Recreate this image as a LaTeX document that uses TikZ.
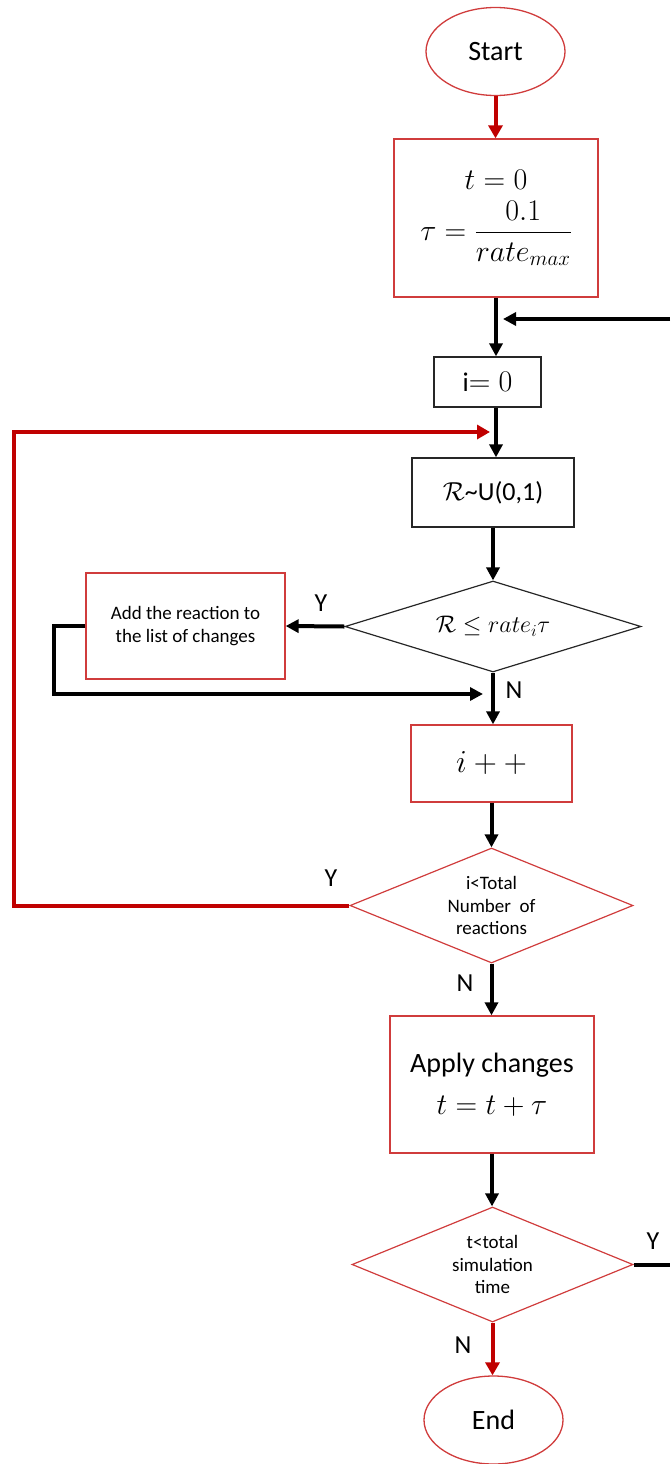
\RequirePackage{fix-cm}
\documentclass[tikz,border=0pt]{standalone}
\usepackage{amsmath}
\usepackage{fontspec}
\setmainfont{Carlito}
\usetikzlibrary{shapes.geometric,arrows.meta}
\definecolor{boxred}{RGB}{208,60,60}
\definecolor{arrred}{RGB}{192,0,0}
\begin{document}
\begin{tikzpicture}[x=1pt,y=-1pt,
  redbox/.style={draw=boxred,line width=1.3pt,rectangle,inner sep=0pt,align=center},
  blackbox/.style={draw=black!85,line width=1.3pt,rectangle,inner sep=0pt,align=center},
  term/.style={draw=boxred,line width=1.3pt,ellipse,inner sep=0pt,minimum width=139pt,minimum height=88pt,font=\fontsize{28}{32}\selectfont},
  dia/.style={draw=#1,line width=1.2pt,diamond,inner sep=0pt,align=center},
  blk/.style={line width=4pt,draw=black,-{Triangle[length=13pt,width=13pt]}},
  blkline/.style={line width=4pt,draw=black},
  redarr/.style={line width=4pt,draw=arrred,-{Triangle[length=13pt,width=14pt]}},
  lab/.style={font=\fontsize{26}{30}\selectfont,inner sep=0pt},
  small/.style={font=\fontsize{19}{22.5}\selectfont},
  mathf/.style={font=\fontsize{30}{36}\selectfont}
]
\useasboundingbox (0,0) rectangle (670,1464);

\node[term] (start) at (495.5,51.5) {Start};
\node[redbox,minimum width=204pt,minimum height=158pt,mathf] (init) at (496,218)
  {$t=0$\\[10pt]$\tau=\dfrac{0.1}{rate_{max}}$};
\node[blackbox,minimum width=107pt,minimum height=50pt,font=\fontsize{27}{30}\selectfont] (izero) at (487.5,382) {i{\fontsize{30}{30}\selectfont$= 0$}};
\node[blackbox,minimum width=162pt,minimum height=69pt,font=\fontsize{26}{30}\selectfont] (rand) at (493,492.5) {$\mathcal{R}$\char`\~U(0,1)};
\node[dia=black!85,aspect=3.25,minimum width=296pt,minimum height=91pt,font=\fontsize{24}{28}\selectfont] (d1) at (493,626.5) {$\mathcal{R}\le rate_i\tau$};
\node[redbox,minimum width=199pt,minimum height=106pt,small] (add) at (185.5,626) {Add the reaction to\\the list of changes};
\node[redbox,minimum width=161pt,minimum height=77pt,font=\fontsize{32}{36}\selectfont] (inc) at (491.5,763.5) {$i++$};
\node[dia=boxred,aspect=2.46,minimum width=283pt,minimum height=115pt,small] (d2) at (491.5,905.5) {i<Total\\Number~ of\\reactions};
\node[redbox,minimum width=204pt,minimum height=137pt,font=\fontsize{28}{42}\selectfont] (apply) at (492,1084.5) {Apply changes\\{\fontsize{30}{42}\selectfont$t=t+\tau$}};
\node[dia=boxred,aspect=2.44,minimum width=281pt,minimum height=115pt,small] (d3) at (492.5,1264.5) {t<total\\simulation\\time};
\node[term] (end) at (493.5,1420) {End};

% connectors
\draw[redarr] (start.south) -- (start.south |- init.north);
\draw[blk] (init.south) -- (init.south |- izero.north);
\coordinate (rin) at (670,319);
\coordinate (rtip) at (503,319);
\draw[blk] (rin) -- (rtip);
\draw[blk] (izero.south -| init.south) -- (init.south |- rand.north);
\draw[blk] (rand.south) -- (rand.south |- d1.north);
\draw[blk] (d1.west) -- (add.east);
\coordinate (btip) at (483,694);
\draw[blk] (add.west) -- ++(-31,0) |- (btip);
\draw[blk] (d1.south) -- (d1.south |- inc.north);
\draw[blk] (inc.south) -- (inc.south |- d2.north);
\coordinate (redtip) at (490,432);
\draw[redarr] (d2.west) -- ++(-335,0) |- (redtip);
\draw[blk] (d2.south) -- (d2.south |- apply.north);
\draw[blk] (apply.south) -- (apply.south |- d3.north);
\coordinate (rout) at (670,1264.5);
\draw[blkline] (d3.east) -- (rout);
\draw[redarr] (d3.south) -- (d3.south |- end.north);

% labels
\node[lab] (y1) at (321,603) {Y};
\node[lab] (n1) at (514,690) {N};
\node[lab] (y2) at (331,878) {Y};
\node[lab] (n2) at (465,983) {N};
\node[lab] (y3) at (653,1241) {Y};
\node[lab] (n3) at (463,1345) {N};
\end{tikzpicture}
\end{document}
